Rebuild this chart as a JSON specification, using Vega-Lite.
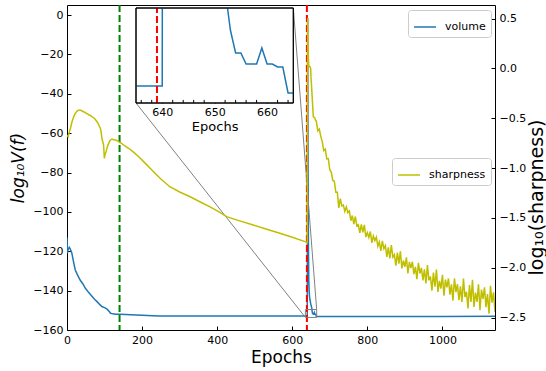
{
  "$schema": "https://vega.github.io/schema/vega-lite/v6.json",
  "width": 428,
  "height": 325,
  "autosize": {"type": "none"},
  "padding": {"left": 67, "top": 5, "right": 51, "bottom": 41},
  "background": "white",
  "config": {
    "font": "DejaVu Sans",
    "view": {"stroke": "black", "strokeWidth": 1},
    "axis": {"grid": false, "domain": false, "tickColor": "black", "tickSize": -4, "tickWidth": 1, "labelPadding": 8, "labelFontSize": 11, "labelColor": "black", "titleColor": "black", "titleFontWeight": "normal", "labelOverlap": false, "labelFlush": false},
    "legend": {"orient": "none", "title": null, "symbolType": "stroke", "symbolStrokeWidth": 1.5, "symbolSize": 484, "labelFontSize": 11, "labelOffset": 8, "padding": 5, "strokeColor": "#cccccc", "fillColor": "white", "cornerRadius": 3, "labelColor": "black"}
  },
  "datasets": {
    "volume": [
      {"epoch": 0, "value": -113}, {"epoch": 1, "value": -121}, {"epoch": 3, "value": -119}, {"epoch": 6, "value": -118}, {"epoch": 9, "value": -119}, {"epoch": 13, "value": -121}, {"epoch": 17, "value": -125}, {"epoch": 22, "value": -129.5}, {"epoch": 28, "value": -132}, {"epoch": 35, "value": -134.6}, {"epoch": 42, "value": -136.5}, {"epoch": 49, "value": -138.8}, {"epoch": 58, "value": -141}, {"epoch": 67, "value": -143}, {"epoch": 74, "value": -144.5}, {"epoch": 80, "value": -145.6}, {"epoch": 87, "value": -147}, {"epoch": 93, "value": -148.1}, {"epoch": 100, "value": -148.6}, {"epoch": 106, "value": -149.3}, {"epoch": 112, "value": -150.5}, {"epoch": 116, "value": -151.5}, {"epoch": 122, "value": -151.8}, {"epoch": 130, "value": -152}, {"epoch": 142, "value": -152}, {"epoch": 170, "value": -152.3}, {"epoch": 200, "value": -152.5}, {"epoch": 244, "value": -152.9}, {"epoch": 400, "value": -152.9}, {"epoch": 600, "value": -152.9}, {"epoch": 640, "value": -152.88},
      {"epoch": 641, "value": -1.7}, {"epoch": 642, "value": -70}, {"epoch": 643, "value": -115}, {"epoch": 644, "value": -135}, {"epoch": 645, "value": -140}, {"epoch": 646, "value": -143}, {"epoch": 647, "value": -144.5}, {"epoch": 648, "value": -145.5}, {"epoch": 649, "value": -146.5}, {"epoch": 650, "value": -147.3}, {"epoch": 651, "value": -148.0}, {"epoch": 652, "value": -148.84}, {"epoch": 653, "value": -150.53}, {"epoch": 654, "value": -151.5}, {"epoch": 655, "value": -151.5}, {"epoch": 656, "value": -151.96}, {"epoch": 657, "value": -151.96}, {"epoch": 658, "value": -151.96}, {"epoch": 659, "value": -151.28}, {"epoch": 660, "value": -151.96}, {"epoch": 661, "value": -151.96}, {"epoch": 662, "value": -152.08}, {"epoch": 663, "value": -152.08}, {"epoch": 664, "value": -153.18}, {"epoch": 665, "value": -153.18}, {"epoch": 700, "value": -153.2}, {"epoch": 800, "value": -153.2}, {"epoch": 900, "value": -153.15}, {"epoch": 1000, "value": -153.1}, {"epoch": 1140, "value": -153.0}
    ],
    "inset": [
      {"epoch": 635, "value": -152.884, "seg": "a"}, {"epoch": 640, "value": -152.884, "seg": "a"}, {"epoch": 640.02, "value": -149.6, "seg": "a"},
      {"epoch": 652.45, "value": -149.6, "seg": "b"}, {"epoch": 653, "value": -150.526, "seg": "b"}, {"epoch": 654, "value": -151.495, "seg": "b"}, {"epoch": 655, "value": -151.495, "seg": "b"}, {"epoch": 656, "value": -151.958, "seg": "b"}, {"epoch": 657, "value": -151.958, "seg": "b"}, {"epoch": 658, "value": -151.958, "seg": "b"}, {"epoch": 659, "value": -151.284, "seg": "b"}, {"epoch": 660, "value": -151.958, "seg": "b"}, {"epoch": 661, "value": -151.958, "seg": "b"}, {"epoch": 662, "value": -152.084, "seg": "b"}, {"epoch": 663, "value": -152.084, "seg": "b"}, {"epoch": 664, "value": -153.179, "seg": "b"}, {"epoch": 665, "value": -153.179, "seg": "b"}
    ],
    "minor": [
      {"epoch": 636}, {"epoch": 638}, {"epoch": 642}, {"epoch": 644}, {"epoch": 646}, {"epoch": 648}, {"epoch": 652}, {"epoch": 654}, {"epoch": 656}, {"epoch": 658}, {"epoch": 662}, {"epoch": 664}
    ],
    "sharp": [
      {"epoch": 0, "value": -0.669}, {"epoch": 3, "value": -0.685}, {"epoch": 6, "value": -0.64}, {"epoch": 9, "value": -0.602}, {"epoch": 13, "value": -0.54}, {"epoch": 18, "value": -0.483}, {"epoch": 22, "value": -0.45}, {"epoch": 27, "value": -0.428}, {"epoch": 31, "value": -0.418}, {"epoch": 35, "value": -0.416}, {"epoch": 39, "value": -0.424}, {"epoch": 44, "value": -0.434}, {"epoch": 48, "value": -0.44}, {"epoch": 52, "value": -0.452}, {"epoch": 55, "value": -0.455}, {"epoch": 58, "value": -0.467}, {"epoch": 62, "value": -0.47}, {"epoch": 66, "value": -0.482}, {"epoch": 71, "value": -0.495}, {"epoch": 75, "value": -0.51}, {"epoch": 80, "value": -0.534}, {"epoch": 84, "value": -0.56}, {"epoch": 89, "value": -0.602}, {"epoch": 91, "value": -0.64}, {"epoch": 93, "value": -0.701}, {"epoch": 95, "value": -0.73}, {"epoch": 97.5, "value": -0.768}, {"epoch": 99, "value": -0.87}, {"epoch": 99.5, "value": -0.902}, {"epoch": 101, "value": -0.87}, {"epoch": 104, "value": -0.835}, {"epoch": 107, "value": -0.79}, {"epoch": 111, "value": -0.752}, {"epoch": 115, "value": -0.72}, {"epoch": 120, "value": -0.708}, {"epoch": 124, "value": -0.715}, {"epoch": 129, "value": -0.718}, {"epoch": 133, "value": -0.722}, {"epoch": 137, "value": -0.734}, {"epoch": 144, "value": -0.75}, {"epoch": 151, "value": -0.768}, {"epoch": 157, "value": -0.785}, {"epoch": 164, "value": -0.801}, {"epoch": 178, "value": -0.842}, {"epoch": 191, "value": -0.886}, {"epoch": 208, "value": -0.95}, {"epoch": 226, "value": -1.019}, {"epoch": 250, "value": -1.11}, {"epoch": 274, "value": -1.187}, {"epoch": 300, "value": -1.24}, {"epoch": 328, "value": -1.288}, {"epoch": 355, "value": -1.34}, {"epoch": 381, "value": -1.389}, {"epoch": 405, "value": -1.44}, {"epoch": 425, "value": -1.487}, {"epoch": 460, "value": -1.53}, {"epoch": 496, "value": -1.572}, {"epoch": 530, "value": -1.612}, {"epoch": 567, "value": -1.655}, {"epoch": 600, "value": -1.695}, {"epoch": 634, "value": -1.738}, {"epoch": 640, "value": -1.748},
      {"epoch": 641, "value": 0.505}, {"epoch": 642, "value": 0.25}, {"epoch": 643, "value": 0.1}, {"epoch": 644, "value": 0.03}, {"epoch": 645, "value": 0.02}, {"epoch": 647, "value": 0.02}, {"epoch": 649, "value": 0.0}, {"epoch": 650, "value": -0.1}, {"epoch": 651, "value": -0.15}, {"epoch": 652, "value": -0.22}, {"epoch": 654, "value": -0.35}, {"epoch": 656, "value": -0.484}, {"epoch": 658, "value": -0.49}, {"epoch": 660, "value": -0.497}, {"epoch": 662, "value": -0.52},
      {"epoch": 664, "value": -0.526}, {"epoch": 668, "value": -0.625}, {"epoch": 672, "value": -0.608}, {"epoch": 676, "value": -0.681}, {"epoch": 680, "value": -0.737}, {"epoch": 684, "value": -0.825}, {"epoch": 688, "value": -0.809}, {"epoch": 692, "value": -0.908}, {"epoch": 696, "value": -0.905}, {"epoch": 700, "value": -1.018}, {"epoch": 704, "value": -1.043}, {"epoch": 708, "value": -1.124}, {"epoch": 712, "value": -1.132}, {"epoch": 716, "value": -1.242}, {"epoch": 720, "value": -1.243}, {"epoch": 724, "value": -1.4}, {"epoch": 728, "value": -1.306}, {"epoch": 732, "value": -1.381}, {"epoch": 736, "value": -1.37}, {"epoch": 740, "value": -1.435}, {"epoch": 744, "value": -1.389}, {"epoch": 748, "value": -1.447}, {"epoch": 752, "value": -1.43}, {"epoch": 756, "value": -1.528}, {"epoch": 760, "value": -1.476}, {"epoch": 764, "value": -1.562}, {"epoch": 768, "value": -1.486}, {"epoch": 772, "value": -1.578}, {"epoch": 776, "value": -1.569}, {"epoch": 780, "value": -1.65}, {"epoch": 784, "value": -1.564}, {"epoch": 788, "value": -1.645}, {"epoch": 792, "value": -1.57}, {"epoch": 796, "value": -1.693}, {"epoch": 800, "value": -1.648}, {"epoch": 804, "value": -1.696}, {"epoch": 808, "value": -1.637}, {"epoch": 812, "value": -1.751}, {"epoch": 816, "value": -1.68}, {"epoch": 820, "value": -1.728}, {"epoch": 824, "value": -1.693}, {"epoch": 828, "value": -1.784}, {"epoch": 832, "value": -1.742}, {"epoch": 836, "value": -1.832}, {"epoch": 840, "value": -1.73}, {"epoch": 844, "value": -1.808}, {"epoch": 848, "value": -1.778}, {"epoch": 852, "value": -1.892}, {"epoch": 856, "value": -1.796}, {"epoch": 860, "value": -1.906}, {"epoch": 864, "value": -1.774}, {"epoch": 868, "value": -1.894}, {"epoch": 872, "value": -1.87}, {"epoch": 876, "value": -1.98}, {"epoch": 880, "value": -1.848}, {"epoch": 884, "value": -1.959}, {"epoch": 888, "value": -1.835}, {"epoch": 892, "value": -2.007}, {"epoch": 896, "value": -1.928}, {"epoch": 900, "value": -1.992}, {"epoch": 904, "value": -1.895}, {"epoch": 908, "value": -2.058}, {"epoch": 912, "value": -1.943}, {"epoch": 916, "value": -2.004}, {"epoch": 920, "value": -1.94}, {"epoch": 924, "value": -2.064}, {"epoch": 928, "value": -1.991}, {"epoch": 932, "value": -2.115}, {"epoch": 936, "value": -1.951}, {"epoch": 940, "value": -2.058}, {"epoch": 944, "value": -2.002}, {"epoch": 948, "value": -2.127}, {"epoch": 952, "value": -2.016}, {"epoch": 956, "value": -2.157}, {"epoch": 960, "value": -1.974}, {"epoch": 964, "value": -2.127}, {"epoch": 968, "value": -2.088}, {"epoch": 972, "value": -2.23}, {"epoch": 976, "value": -2.048}, {"epoch": 980, "value": -2.19}, {"epoch": 984, "value": -2.018}, {"epoch": 988, "value": -2.243}, {"epoch": 992, "value": -2.132}, {"epoch": 996, "value": -2.21}, {"epoch": 1000, "value": -2.072}, {"epoch": 1004, "value": -2.282}, {"epoch": 1008, "value": -2.12}, {"epoch": 1012, "value": -2.198}, {"epoch": 1016, "value": -2.108}, {"epoch": 1020, "value": -2.27}, {"epoch": 1024, "value": -2.168}, {"epoch": 1028, "value": -2.33}, {"epoch": 1032, "value": -2.108}, {"epoch": 1036, "value": -2.246}, {"epoch": 1040, "value": -2.165}, {"epoch": 1044, "value": -2.326}, {"epoch": 1048, "value": -2.187}, {"epoch": 1052, "value": -2.345}, {"epoch": 1056, "value": -2.11}, {"epoch": 1060, "value": -2.295}, {"epoch": 1064, "value": -2.242}, {"epoch": 1068, "value": -2.41}, {"epoch": 1072, "value": -2.174}, {"epoch": 1076, "value": -2.343}, {"epoch": 1080, "value": -2.122}, {"epoch": 1084, "value": -2.395}, {"epoch": 1088, "value": -2.249}, {"epoch": 1092, "value": -2.343}, {"epoch": 1096, "value": -2.167}, {"epoch": 1100, "value": -2.426}, {"epoch": 1104, "value": -2.22}, {"epoch": 1108, "value": -2.314}, {"epoch": 1112, "value": -2.198}, {"epoch": 1116, "value": -2.396}, {"epoch": 1120, "value": -2.265}, {"epoch": 1124, "value": -2.463}, {"epoch": 1128, "value": -2.182}, {"epoch": 1132, "value": -2.35}, {"epoch": 1136, "value": -2.248}, {"epoch": 1140, "value": -2.446}
    ]
  },
  "layer": [
    {
      "layer": [
        {
          "data": {"name": "volume"},
          "mark": {"type": "line", "strokeWidth": 1.5, "clip": true},
          "encoding": {
            "x": {"field": "epoch", "type": "quantitative", "scale": {"domain": [0, 1140], "nice": false, "zero": false}, "axis": {"values": [0, 200, 400, 600, 800, 1000], "format": "d", "labelOverlap": false, "title": "Epochs", "titleFontSize": 17, "titlePadding": 4}},
            "y": {"field": "value", "type": "quantitative", "scale": {"domain": [-160, 5.08], "nice": false, "zero": false}, "axis": {"values": [-160, -140, -120, -100, -80, -60, -40, -20, 0], "format": "d", "labelOverlap": false, "title": "log₁₀V(f)", "titleFontSize": 17, "titleFontStyle": "italic", "titlePadding": 5}},
            "color": {"datum": "volume", "type": "nominal", "scale": {"range": ["#1f77b4"]}, "legend": {"legendX": 341, "legendY": 5}}
          }
        },
        {
          "data": {"values": [{"epoch": 140}]},
          "mark": {"type": "rule", "color": "#008000", "strokeWidth": 2, "strokeDash": [7, 3]},
          "encoding": {"x": {"field": "epoch", "type": "quantitative", "title": "Epochs"}}
        },
        {
          "data": {"values": [{"epoch": 639}]},
          "mark": {"type": "rule", "color": "#ff0000", "strokeWidth": 2, "strokeDash": [7, 3]},
          "encoding": {"x": {"field": "epoch", "type": "quantitative", "title": "Epochs"}}
        },
        {
          "data": {"values": [{"x0": 635, "x1": 665, "y0": -153.6, "y1": -149.6}]},
          "mark": {"type": "rect", "fillOpacity": 0, "stroke": "#808080", "strokeWidth": 1},
          "encoding": {"x": {"field": "x0", "type": "quantitative", "title": "Epochs"}, "x2": {"field": "x1"}, "y": {"field": "y0", "type": "quantitative", "title": "log₁₀V(f)"}, "y2": {"field": "y1"}}
        },
        {
          "data": {"values": [{"x0": 183.8, "y0": -44.7, "x1": 635, "y1": -153.6}, {"x0": 602.8, "y0": 3.56, "x1": 665, "y1": -149.6}]},
          "mark": {"type": "rule", "color": "#808080", "strokeWidth": 1},
          "encoding": {"x": {"field": "x0", "type": "quantitative", "title": "Epochs"}, "x2": {"field": "x1"}, "y": {"field": "y0", "type": "quantitative", "title": "log₁₀V(f)"}, "y2": {"field": "y1"}}
        }
      ]
    },
    {
      "data": {"name": "sharp"},
      "mark": {"type": "line", "strokeWidth": 1.5, "clip": true},
      "encoding": {
        "x": {"field": "epoch", "type": "quantitative", "scale": {"domain": [0, 1140], "nice": false, "zero": false}, "axis": null},
        "y": {"field": "value", "type": "quantitative", "scale": {"domain": [-2.6255, 0.6375], "nice": false, "zero": false}, "axis": {"orient": "right", "values": [-2.5, -2, -1.5, -1, -0.5, 0, 0.5], "format": ".1f", "labelOverlap": false, "title": "log₁₀(sharpness)", "titleFontSize": 19, "titleAngle": 270, "titleBaseline": "top", "titlePadding": 2, "titleY": 192}},
        "color": {"datum": "sharpness", "type": "nominal", "scale": {"range": ["#bfbf00"]}, "legend": {"legendX": 325, "legendY": 153}}
      }
    },
    {
      "layer": [
        {
          "data": {"values": [{"x0": 635, "x1": 665, "y0": -153.6, "y1": -149.6}]},
          "mark": {"type": "rect", "fill": "white", "stroke": "black", "strokeWidth": 1},
          "encoding": {
            "x": {"field": "x0", "type": "quantitative", "scale": {"domain": [635, 665], "range": [69, 226.3], "nice": false, "zero": false}, "axis": {"orient": "bottom", "offset": -227, "values": [640, 650, 660], "labelOverlap": false, "format": "d", "title": "Epochs", "titleFontSize": 13, "titlePadding": 3, "tickSize": -3, "labelPadding": 6}},
            "x2": {"field": "x1"},
            "y": {"field": "y0", "type": "quantitative", "scale": {"domain": [-153.6, -149.6], "range": [98, 3], "nice": false, "zero": false}, "axis": null},
            "y2": {"field": "y1"}
          }
        },
        {
          "data": {"name": "minor"},
          "mark": {"type": "rule", "color": "black", "strokeWidth": 1},
          "encoding": {
            "x": {"field": "epoch", "type": "quantitative", "title": "Epochs"},
            "y": {"datum": -153.6, "type": "quantitative", "axis": null},
            "y2": {"datum": -153.47}
          }
        },
        {
          "data": {"name": "inset"},
          "mark": {"type": "line", "strokeWidth": 1.5, "color": "#1f77b4"},
          "encoding": {
            "x": {"field": "epoch", "type": "quantitative", "title": "Epochs"},
            "y": {"field": "value", "type": "quantitative", "axis": null},
            "detail": {"field": "seg"}
          }
        },
        {
          "data": {"values": [{"epoch": 639, "lo": -153.6, "hi": -149.6}]},
          "mark": {"type": "rule", "color": "#ff0000", "strokeWidth": 2, "strokeDash": [7, 3]},
          "encoding": {
            "x": {"field": "epoch", "type": "quantitative", "title": "Epochs"},
            "y": {"field": "lo", "type": "quantitative", "axis": null},
            "y2": {"field": "hi"}
          }
        },
        {
          "data": {"values": [{"x0": 635, "x1": 665, "y0": -153.6, "y1": -149.6}]},
          "mark": {"type": "rect", "fillOpacity": 0, "stroke": "black", "strokeWidth": 1},
          "encoding": {
            "x": {"field": "x0", "type": "quantitative", "title": "Epochs"},
            "x2": {"field": "x1"},
            "y": {"field": "y0", "type": "quantitative", "axis": null},
            "y2": {"field": "y1"}
          }
        }
      ]
    }
  ],
  "resolve": {"scale": {"x": "independent", "y": "independent", "color": "independent"}}
}
